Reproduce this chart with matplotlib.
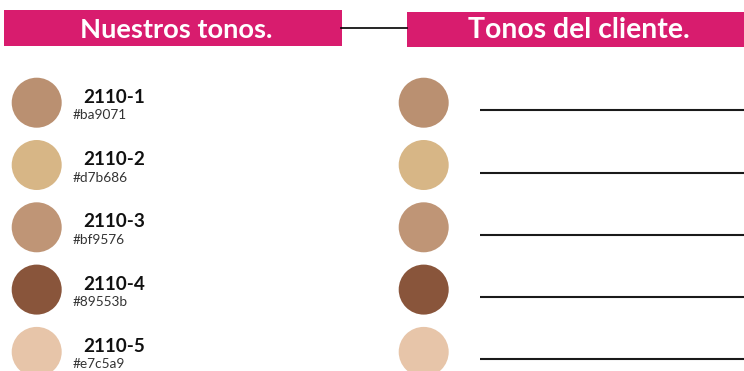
import matplotlib.pyplot as plt
from matplotlib.patches import Circle, Rectangle

codes = ['2110-1', '2110-2', '2110-3', '2110-4', '2110-5']
hexes = ['#ba9071', '#d7b686', '#bf9576', '#89553b', '#e7c5a9']
titles = ['Nuestros tonos.', 'Tonos del cliente.']

pink = '#d81c6e'
W, H = 744, 371

fig = plt.figure(figsize=(W / 100, H / 100), dpi=100)
ax = fig.add_axes([0, 0, 1, 1])
ax.set_xlim(0, W)
ax.set_ylim(H, 0)
ax.axis('off')

# header bars + connector
ax.add_patch(Rectangle((4, 10), 337.5, 36, color=pink, lw=0))
ax.add_patch(Rectangle((407, 11.5), 340, 35.5, color=pink, lw=0))
ax.plot([341, 407], [27.7, 27.7], color='black', lw=1.2)
ax.text(176, 37.7, titles[0], color='white', fontsize=19.6, fontweight='bold',
        family='Lato', ha='center', va='baseline')
ax.text(579, 38.4, titles[1], color='white', fontsize=20.4, fontweight='bold',
        family='Lato', ha='center', va='baseline')

row0, step = 102.7, 62.3
for i, (code, hx) in enumerate(zip(codes, hexes)):
    cy = row0 + step * i
    ax.add_patch(Circle((36.7, cy), 25, color=hx, lw=0))
    ax.add_patch(Circle((423.7, cy), 25, color=hx, lw=0))
    ax.text(83, cy, code, fontsize=13.6, fontweight='bold', family='Lato',
            color='#111111', ha='left', va='baseline')
    ax.text(73, cy + 16.6, hx, fontsize=9.8, family='Lato', color='#333333',
            ha='left', va='baseline')
    ax.plot([480, W], [cy + 7.5, cy + 7.5], color='#1a1a1a', lw=1.5,
            solid_capstyle='butt')

fig.savefig('out.png', dpi=100)
